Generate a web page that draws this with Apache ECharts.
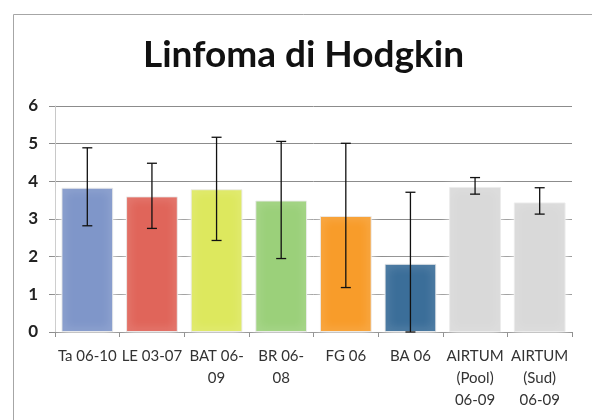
<!DOCTYPE html>
<html><head><meta charset="utf-8">
<script src="https://cdn.jsdelivr.net/npm/echarts@6/dist/echarts.min.js"></script>
<style>html,body{margin:0;padding:0;background:#fff}#c{width:592px;height:420px}</style>
</head><body><div id="c"></div>
<script>
var categories = ["Ta 06-10", "LE 03-07", "BAT 06-\n09", "BR 06-\n08", "FG 06", "BA 06", "AIRTUM\n(Pool)\n06-09", "AIRTUM\n(Sud)\n06-09"];
var values = [3.83, 3.60, 3.79, 3.49, 3.08, 1.81, 3.85, 3.44];
var errLow = [2.82, 2.75, 2.43, 1.95, 1.18, 0.0, 3.66, 3.13];
var errHigh = [4.89, 4.48, 5.17, 5.06, 5.01, 3.71, 4.10, 3.83];
var barColors = ["#7f96c9", "#e0655a", "#dde85e", "#9bd07a", "#f89c2a", "#3b6e99", "#d9d9d9", "#d9d9d9"];
var yTicks = [0, 1, 2, 3, 4, 5, 6];

var chart = echarts.init(document.getElementById('c'));
var errData = categories.map(function (c, i) { return [i, errLow[i], errHigh[i]]; });
chart.setOption({
  animation: false,
  backgroundColor: '#fff',
  graphic: [{
    type: 'rect', left: 11, top: 12, z: -1,
    shape: { width: 620, height: 440 },
    style: { fill: 'none', stroke: '#a6a6a6', lineWidth: 1 }
  }],
  title: {
    text: 'Linfoma di Hodgkin', left: 143, top: 37,
    textStyle: { fontFamily: 'Lato', fontWeight: 'bold', fontSize: 37, color: '#111' },
    padding: 0
  },
  grid: { left: 55, right: 20, top: 106, bottom: 88 },
  xAxis: {
    type: 'category', data: categories,
    axisLine: { lineStyle: { color: '#8c8c8c', width: 1 } },
    axisTick: { show: true, length: 5, lineStyle: { color: '#8c8c8c' } },
    axisLabel: { fontFamily: 'Lato', fontSize: 15, color: '#333', lineHeight: 22, margin: 13, interval: 0 }
  },
  yAxis: {
    type: 'value', min: yTicks[0], max: yTicks[yTicks.length - 1], interval: 1,
    axisLine: { show: true, lineStyle: { color: '#c8c8c8' } },
    axisTick: { show: true, length: 6, lineStyle: { color: '#8c8c8c' } },
    axisLabel: { fontFamily: 'Lato', fontWeight: 'bold', fontSize: 17, color: '#222', margin: 17 },
    splitLine: { lineStyle: { color: '#8c8c8c', width: 1 } }
  },
  series: [{
    type: 'bar',
    data: values.map(function (v, i) { return { value: v, itemStyle: { color: barColors[i] } }; }),
    barCategoryGap: '20%',
    itemStyle: { borderColor: 'rgba(235,235,235,0.9)', borderWidth: 1, shadowColor: '#ffffff', shadowBlur: 10 }
  }, {
    type: 'custom',
    data: errData,
    z: 10,
    renderItem: function (params, api) {
      var x = api.value(0);
      var lo = api.coord([x, api.value(1)]);
      var hi = api.coord([x, api.value(2)]);
      var w = 5;
      var st = { stroke: '#111', lineWidth: 1.3 };
      return {
        type: 'group',
        children: [
          { type: 'line', shape: { x1: hi[0], y1: hi[1], x2: lo[0], y2: lo[1] }, style: st },
          { type: 'line', shape: { x1: hi[0] - w, y1: hi[1], x2: hi[0] + w, y2: hi[1] }, style: st },
          { type: 'line', shape: { x1: lo[0] - w, y1: lo[1], x2: lo[0] + w, y2: lo[1] }, style: st }
        ]
      };
    }
  }]
});
</script></body></html>
